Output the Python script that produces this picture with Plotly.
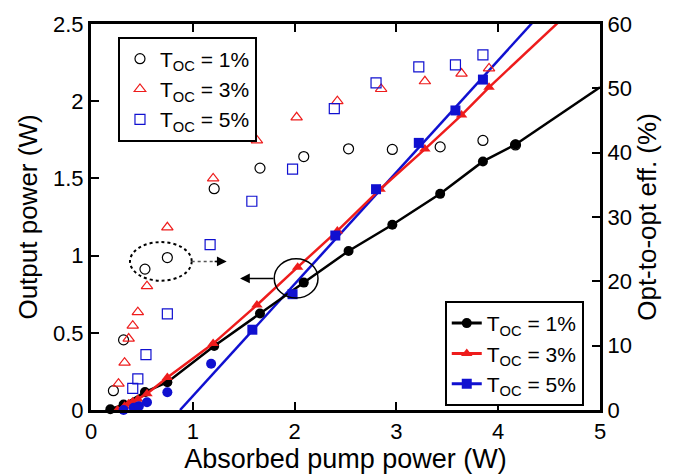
import plotly.graph_objects as go

# ---------------- data ----------------
# T_OC = 1 %
p1_x = [0.19, 0.32, 0.53, 0.75, 1.21, 1.66, 2.09, 2.53, 2.96, 3.43, 3.85, 4.17]
p1_out = [0.005, 0.035, 0.116, 0.18, 0.415, 0.625, 0.825, 1.03, 1.20, 1.40, 1.61, 1.72]
e1_x = [0.22, 0.32, 0.53, 0.75, 1.21, 1.66, 2.09, 2.53, 2.96, 3.43, 3.85, 4.17]
e1_eff = [3.0, 10.9, 21.9, 23.7, 34.4, 37.6, 39.4, 40.6, 40.5, 40.9, 41.9, 41.2]
fit1_x = [4.17, 5.0]
fit1_y = [1.72, 2.09]

# T_OC = 3 %
p3_x = [0.26, 0.33, 0.37, 0.41, 0.46, 0.55, 0.75, 1.20, 1.63, 2.03, 2.42, 2.84, 3.28, 3.64, 3.91]
p3_out = [0.0, 0.024, 0.041, 0.054, 0.07, 0.106, 0.21, 0.43, 0.68, 0.925, 1.16, 1.43, 1.69, 1.91, 2.09]
e3_x = [0.27, 0.33, 0.37, 0.41, 0.46, 0.55, 0.75, 1.20, 1.63, 2.02, 2.42, 2.85, 3.28, 3.64, 3.91]
e3_eff = [4.1, 7.35, 11.1, 13.1, 15.2, 19.25, 28.4, 36.0, 41.9, 45.5, 48.0, 49.9, 51.1, 52.3, 53.1]
fit3_x = [3.91, 4.8]
fit3_y = [2.09, 2.64]

# T_OC = 5 %
p5c_x = [0.32, 0.42, 0.47, 0.55, 0.75, 1.18]
p5c_out = [0.0, 0.015, 0.025, 0.05, 0.115, 0.30]
p5s_x = [1.585, 1.98, 2.40, 2.80, 3.22, 3.58, 3.85]
p5s_out = [0.52, 0.75, 1.13, 1.43, 1.73, 1.94, 2.14]
e5_x = [0.41, 0.46, 0.54, 0.75, 1.17, 1.58, 1.98, 2.39, 2.80, 3.22, 3.58, 3.85]
e5_eff = [3.35, 4.85, 8.6, 14.95, 25.7, 32.45, 37.45, 46.85, 50.85, 53.35, 53.65, 55.2]
fit5_x = [0.875, 4.6]
fit5_y = [0.0, 2.7]

labels = ["T<sub>OC</sub> = 1%", "T<sub>OC</sub> = 3%", "T<sub>OC</sub> = 5%"]
BLACK, RED, BLUE = "#000000", "#ee1c1c", "#1010d0"
FONT = "Liberation Sans, Arial, sans-serif"

fig = go.Figure()

# efficiency (open markers, right axis)
fig.add_trace(go.Scatter(x=e1_x, y=e1_eff, yaxis="y2", mode="markers", name=labels[0],
                         marker=dict(symbol="circle-open", size=10, color=BLACK, line=dict(width=1.2)),
                         legend="legend", cliponaxis=False))
fig.add_trace(go.Scatter(x=e3_x, y=e3_eff, yaxis="y2", mode="markers", name=labels[1],
                         marker=dict(symbol="triangle-up-open", size=10, color=RED, line=dict(width=1.2)),
                         legend="legend", cliponaxis=False))
fig.add_trace(go.Scatter(x=e5_x, y=e5_eff, yaxis="y2", mode="markers", name=labels[2],
                         marker=dict(symbol="square-open", size=10, color=BLUE, line=dict(width=1.2)),
                         legend="legend", cliponaxis=False))

# output power (filled, left axis)
fig.add_trace(go.Scatter(x=fit1_x, y=fit1_y, mode="lines", line=dict(color=BLACK, width=2.5),
                         showlegend=False))
fig.add_trace(go.Scatter(x=fit3_x, y=fit3_y, mode="lines", line=dict(color=RED, width=2.5),
                         showlegend=False))
fig.add_trace(go.Scatter(x=fit5_x, y=fit5_y, mode="lines", line=dict(color=BLUE, width=2.5),
                         showlegend=False))
fig.add_trace(go.Scatter(x=p1_x, y=p1_out, mode="lines+markers", name=labels[0],
                         line=dict(color=BLACK, width=2.5),
                         marker=dict(symbol="circle", size=10, color=BLACK),
                         showlegend=False, cliponaxis=False))
fig.add_trace(go.Scatter(x=p3_x, y=p3_out, mode="lines+markers", name=labels[1],
                         line=dict(color=RED, width=2.5),
                         marker=dict(symbol="triangle-up", size=10, color=RED),
                         showlegend=False, cliponaxis=False))
fig.add_trace(go.Scatter(x=p5c_x, y=p5c_out, mode="markers",
                         marker=dict(symbol="circle", size=10, color=BLUE),
                         showlegend=False, cliponaxis=False))
fig.add_trace(go.Scatter(x=p5s_x, y=p5s_out, mode="markers",
                         marker=dict(symbol="square", size=10, color=BLUE),
                         showlegend=False, cliponaxis=False))

# legend-only entries for the lower-right legend
for lab, col, sym in zip(labels, [BLACK, RED, BLUE], ["circle", "triangle-up", "square"]):
    fig.add_trace(go.Scatter(x=[None], y=[None], mode="lines+markers", name=lab,
                             line=dict(color=col, width=3),
                             marker=dict(symbol=sym, size=10, color=col),
                             legend="legend2"))

# annotations: dotted ellipse + arrow, solid circle + arrow
fig.add_shape(type="circle", xref="x", yref="y", x0=0.383, x1=0.989, y0=0.8375, y1=1.0875,
              line=dict(color=BLACK, width=2, dash="dot"))
fig.add_shape(type="line", xref="x", yref="y", x0=0.989, x1=1.25, y0=0.9625, y1=0.9625,
              line=dict(color="#555555", width=1.5, dash="dot"))
fig.add_annotation(x=1.333, y=0.9625, ax=1.2, ay=0.9625, axref="x", ayref="y",
                   xref="x", yref="y", showarrow=True, arrowhead=2, arrowsize=1.3,
                   arrowwidth=1.5, arrowcolor=BLACK, text="")
fig.add_shape(type="circle", xref="x", yref="y", x0=1.80, x1=2.23, y0=0.725, y1=0.98,
              line=dict(color=BLACK, width=1.5))
fig.add_annotation(x=1.464, y=0.852, ax=1.807, ay=0.852, axref="x", ayref="y",
                   xref="x", yref="y", showarrow=True, arrowhead=2, arrowsize=1.3,
                   arrowwidth=1.5, arrowcolor=BLACK, text="")

axis_common = dict(showline=True, linecolor=BLACK, linewidth=3, ticks="inside", ticklen=8,
                   tickwidth=2, tickcolor=BLACK, showgrid=False, zeroline=False,
                   tickfont=dict(size=22, color=BLACK, family=FONT))

fig.update_layout(
    width=676, height=475,
    margin=dict(l=91, r=76, t=19, b=56),
    paper_bgcolor="white", plot_bgcolor="white",
    font=dict(family=FONT, color=BLACK),
    xaxis=dict(range=[0, 5], tickvals=[0, 1, 2, 3, 4, 5], mirror="ticks",
               title=dict(text="Absorbed pump power (W)", font=dict(size=27), standoff=0),
               **axis_common),
    yaxis=dict(range=[0, 2.5], tickvals=[0, 0.5, 1, 1.5, 2, 2.5],
               ticktext=["0", "0.5", "1", "1.5", "2", "2.5"],
               title=dict(text="Output power (W)", font=dict(size=26), standoff=8),
               **axis_common),
    yaxis2=dict(range=[0, 60], tickvals=[0, 10, 20, 30, 40, 50, 60], overlaying="y", side="right",
                title=dict(text="Opt-to-opt eff. (%)", font=dict(size=26), standoff=6),
                **axis_common),
    legend=dict(x=0.053, y=0.9675, xanchor="left", yanchor="top", bgcolor="white",
                bordercolor=BLACK, borderwidth=2, font=dict(size=21, family=FONT),
                tracegroupgap=0),
    legend2=dict(x=0.695, y=0.2825, xanchor="left", yanchor="top", bgcolor="white",
                 bordercolor=BLACK, borderwidth=2, font=dict(size=21, family=FONT),
                 tracegroupgap=0),
    showlegend=True,
)

fig.write_html("out.html")
